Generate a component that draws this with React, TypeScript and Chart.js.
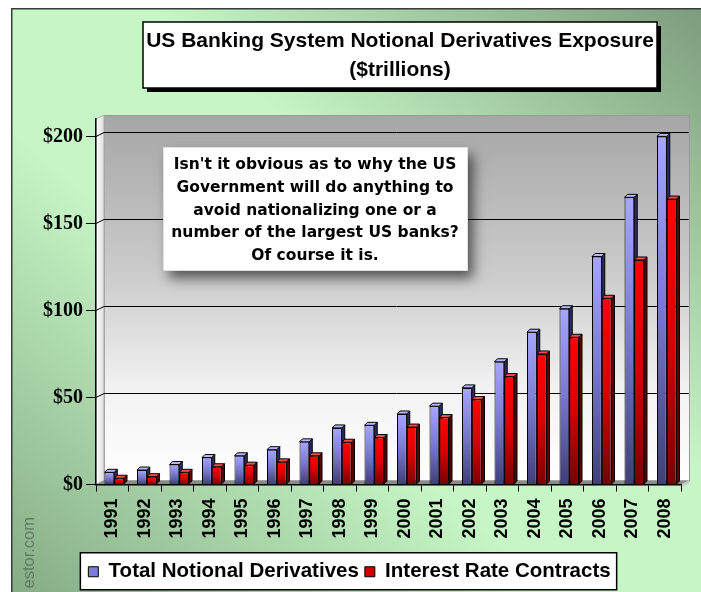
import React, { useEffect, useRef } from "react";
import { Chart, registerables } from "chart.js";

Chart.register(...registerables);

// ---------- data ----------
const years = [
  "1991", "1992", "1993", "1994", "1995", "1996", "1997", "1998", "1999",
  "2000", "2001", "2002", "2003", "2004", "2005", "2006", "2007", "2008",
];
const totalNotional = [7, 8.3, 11.5, 15.5, 16.5, 20, 24.5, 32.5, 34, 40.5, 45, 55.5, 70.5, 87.5, 101, 131, 165, 200];
const interestRate = [3.6, 4.5, 7, 10.2, 11.1, 13, 16.5, 24.3, 27, 33, 38.5, 48.8, 62, 75, 84.6, 107, 129, 164];
const seriesNames = ["Total Notional Derivatives", "Interest Rate Contracts"];
const yMin = 0;
const yMax = 210;
const yStep = 50;
const titleLines = ["US Banking System Notional Derivatives Exposure", "($trillions)"];
const noteLines = [
  "Isn't it obvious as to why the US",
  "Government will do anything to",
  "avoid nationalizing one or a",
  "number of the largest US banks?",
  "Of course it is.",
];
const watermark = "estor.com";

// ---------- styles ----------
const SANS = '"Liberation Sans", Arial, sans-serif';
const SERIF = '"Liberation Serif", "Times New Roman", serif';
const NOTE_FONT = '"DejaVu Sans", Verdana, sans-serif';
const WALL_DX = 8;
const WALL_DY = 4;
const BAR_DX = 3;
const BAR_DY = 3;
const BAR_SHIFT = 2;
const legendColors = ["#7c7cd4", "#cc0000"];
const sideColors = ["#2c2c62", "#5a0000"];
const topColors = ["#b8b8ff", "#ff4a4a"];

const frontGrad = (top: string, mid: string, bottom: string, solid: string) => (c: any) => {
  const chart = c.chart;
  const ys = chart && chart.scales && chart.scales.y;
  if (c.type !== "data" || !ys || !chart.chartArea) return solid;
  const yTop = ys.getPixelForValue(c.raw as number);
  const yb = ys.getPixelForValue(0);
  if (!isFinite(yTop) || !isFinite(yb) || Math.abs(yb - yTop) < 1) return solid;
  const g = chart.ctx.createLinearGradient(0, yTop, 0, yb);
  g.addColorStop(0, top);
  g.addColorStop(0.5, mid);
  g.addColorStop(1, bottom);
  return g;
};

const decorPlugin = {
  id: "decor",
  beforeDraw(chart: any) {
    const { ctx, width, height, chartArea: ca, scales } = chart;
    ctx.save();
    ctx.fillStyle = "#ffffff";
    ctx.fillRect(0, 0, width, height);

    // background gradient (light along TL-BR diagonal, dark at BL and TR)
    const x0 = 3, y0 = 0, w = width - x0 + 8, h = height - y0 + 8;
    const cx = x0 + w / 2, cy = y0 + h / 2;
    const k = (w * h) / (w * w + h * h);
    const g = ctx.createLinearGradient(cx - h * k, cy + w * k, cx + h * k, cy - w * k);
    g.addColorStop(0, "#84ab84");
    g.addColorStop(0.4, "#c6f6c6");
    g.addColorStop(0.6, "#c6f6c6");
    g.addColorStop(1, "#7b9b7b");
    ctx.fillStyle = g;
    ctx.fillRect(x0, y0, w, h);
    ctx.strokeStyle = "#3a3a3a";
    ctx.lineWidth = 1.5;
    ctx.strokeRect(x0 + 0.75, y0 + 0.75, w, h);

    // watermark
    ctx.save();
    ctx.translate(21, 509);
    ctx.rotate(-Math.PI / 2);
    ctx.font = "16.5px " + SANS;
    ctx.fillStyle = "rgba(80,95,80,0.7)";
    ctx.textAlign = "right";
    ctx.textBaseline = "middle";
    ctx.fillText(watermark, 0, 0);
    ctx.restore();

    // 3D walls
    const L = ca.left, R = ca.right, T = ca.top, B = ca.bottom;
    // back wall
    const wg = ctx.createLinearGradient(0, T - WALL_DY, 0, B - WALL_DY);
    wg.addColorStop(0, "#a6a6a6");
    wg.addColorStop(0.45, "#cdcdcd");
    wg.addColorStop(0.75, "#f2f2f2");
    wg.addColorStop(1, "#ffffff");
    ctx.fillStyle = wg;
    ctx.fillRect(L + WALL_DX, T - WALL_DY, R - L, B - T);
    ctx.strokeStyle = "#9a9a9a";
    ctx.lineWidth = 1;
    ctx.strokeRect(L + WALL_DX + 0.5, T - WALL_DY + 0.5, R - L, B - T);
    // left wall
    const lg = ctx.createLinearGradient(L, 0, L + WALL_DX, 0);
    lg.addColorStop(0, "#ffffff");
    lg.addColorStop(1, "#dcdcdc");
    ctx.fillStyle = lg;
    ctx.beginPath();
    ctx.moveTo(L, B);
    ctx.lineTo(L, T);
    ctx.lineTo(L + WALL_DX, T - WALL_DY);
    ctx.lineTo(L + WALL_DX, B - WALL_DY);
    ctx.closePath();
    ctx.fill();
    ctx.strokeStyle = "#b0b0b0";
    ctx.stroke();
    // floor
    ctx.fillStyle = "#8a8a8a";
    ctx.beginPath();
    ctx.moveTo(L, B);
    ctx.lineTo(L + WALL_DX, B - WALL_DY);
    ctx.lineTo(R + WALL_DX, B - WALL_DY);
    ctx.lineTo(R, B);
    ctx.closePath();
    ctx.fill();
    ctx.fillStyle = "#c8c8c8";
    ctx.beginPath();
    ctx.moveTo(R, B);
    ctx.lineTo(R + WALL_DX, B - WALL_DY);
    ctx.lineTo(R + WALL_DX, B - WALL_DY + 3);
    ctx.lineTo(R + 1, B + 2);
    ctx.closePath();
    ctx.fill();

    // gridlines on the back wall
    const ys = scales.y;
    ctx.strokeStyle = "#000";
    ctx.lineWidth = 1;
    for (let v = yMin + yStep; v <= 200; v += yStep) {
      const py = Math.round(ys.getPixelForValue(v)) + 0.5;
      ctx.beginPath();
      ctx.moveTo(L, py);
      ctx.lineTo(L + WALL_DX, py - WALL_DY);
      ctx.lineTo(R + WALL_DX, py - WALL_DY);
      ctx.stroke();
    }

    // legend frame
    const lgd = chart.legend;
    const hb = lgd && lgd.legendHitBoxes;
    if (hb && hb.length) {
      const first = hb[0], last = hb[hb.length - 1];
      const left = first.left - 8;
      const right = last.left + last.width + 6;
      const mid = first.top + first.height / 2;
      ctx.fillStyle = "#ffffff";
      ctx.fillRect(left, mid - 19, right - left, 37);
      ctx.strokeStyle = "#000";
      ctx.lineWidth = 1.5;
      ctx.strokeRect(left, mid - 19, right - left, 37);
    }
    ctx.restore();
  },
  beforeDatasetsDraw(chart: any) {
    const ctx = chart.ctx;
    ctx.save();
    ctx.translate(BAR_SHIFT, 0);
    chart.data.datasets.forEach((_ds: any, di: number) => {
      const meta = chart.getDatasetMeta(di);
      meta.data.forEach((bar: any) => {
        const { x, y, base, width } = bar.getProps(["x", "y", "base", "width"], true);
        const l = x - width / 2, r = x + width / 2;
        ctx.lineWidth = 1;
        ctx.strokeStyle = "#000";
        ctx.fillStyle = sideColors[di];
        ctx.beginPath();
        ctx.moveTo(r, y);
        ctx.lineTo(r + BAR_DX, y - BAR_DY);
        ctx.lineTo(r + BAR_DX, base - BAR_DY);
        ctx.lineTo(r, base);
        ctx.closePath();
        ctx.fill();
        ctx.stroke();
        ctx.fillStyle = topColors[di];
        ctx.beginPath();
        ctx.moveTo(l, y);
        ctx.lineTo(l + BAR_DX, y - BAR_DY);
        ctx.lineTo(r + BAR_DX, y - BAR_DY);
        ctx.lineTo(r, y);
        ctx.closePath();
        ctx.fill();
        ctx.stroke();
      });
    });
  },
  afterDatasetsDraw(chart: any) {
    chart.ctx.restore();
  },
  afterDraw(chart: any) {
    const ctx = chart.ctx;
    ctx.save();
    // title box
    const tx = 135, ty = 14, tw = 514, th = 66;
    ctx.fillStyle = "#000";
    ctx.fillRect(tx + 4, ty + 4, tw, th);
    ctx.fillStyle = "#fff";
    ctx.fillRect(tx, ty, tw, th);
    ctx.strokeStyle = "#000";
    ctx.lineWidth = 1.5;
    ctx.strokeRect(tx, ty, tw, th);
    ctx.fillStyle = "#000";
    ctx.textAlign = "center";
    ctx.textBaseline = "middle";
    ctx.font = "bold 21px " + SANS;
    ctx.fillText(titleLines[0], tx + tw / 2, 33.5);
    ctx.fillText(titleLines[1], tx + tw / 2, 62);

    // note box
    const nx = 155, ny = 139, nw = 304, nh = 123;
    ctx.save();
    ctx.shadowColor = "rgba(0,0,0,0.6)";
    ctx.shadowBlur = 12;
    ctx.shadowOffsetX = 6;
    ctx.shadowOffsetY = 8;
    ctx.fillStyle = "#fff";
    ctx.fillRect(nx, ny, nw, nh);
    ctx.restore();
    ctx.strokeStyle = "#e0e0e0";
    ctx.lineWidth = 1;
    ctx.strokeRect(nx + 0.5, ny + 0.5, nw, nh);
    ctx.fillStyle = "#000";
    ctx.font = "bold 15.5px " + NOTE_FONT;
    noteLines.forEach((line, i) => {
      ctx.fillText(line, nx + nw / 2, 157 + i * 22.75);
    });
    ctx.restore();
  },
};

export default function App() {
  const ref = useRef<HTMLCanvasElement | null>(null);

  useEffect(() => {
    if (!ref.current) return;
    const chart = new Chart(ref.current, {
      type: "bar",
      data: {
        labels: years,
        datasets: [
          {
            label: seriesNames[0],
            data: totalNotional,
            backgroundColor: frontGrad("#a6a6ff", "#7878cc", "#3e3e78", legendColors[0]),
            borderColor: "#000",
            borderWidth: 1,
            categoryPercentage: 0.6,
            barPercentage: 1,
          },
          {
            label: seriesNames[1],
            data: interestRate,
            backgroundColor: frontGrad("#ff0000", "#d80000", "#780000", legendColors[1]),
            borderColor: "#000",
            borderWidth: 1,
            categoryPercentage: 0.6,
            barPercentage: 1,
          },
        ],
      },
      options: {
        responsive: false,
        animation: false,
        layout: { padding: { left: 10, right: 20, top: 111, bottom: 0 } },
        plugins: {
          title: { display: false },
          tooltip: { enabled: false },
          legend: {
            display: true,
            position: "bottom",
            labels: {
              boxWidth: 10,
              boxHeight: 10,
              padding: 6,
              color: "#000",
              font: { family: SANS, weight: "bold", size: 20.5 },
              generateLabels: (c: any) =>
                c.data.datasets.map((ds: any, i: number) => ({
                  text: ds.label,
                  fillStyle: legendColors[i],
                  strokeStyle: "#000",
                  lineWidth: 1,
                  hidden: false,
                  datasetIndex: i,
                  fontColor: "#000",
                })),
            },
          },
        },
        scales: {
          x: {
            offset: true,
            grid: { offset: true, drawOnChartArea: false, tickLength: 7, color: "#000", tickColor: "#000" },
            border: { color: "#000", width: 1.5 },
            ticks: {
              minRotation: 90,
              maxRotation: 90,
              autoSkip: false,
              padding: 7,
              color: "#000",
              font: { family: SANS, weight: "bold", size: 18 },
            },
            afterFit: (s: any) => {
              s.height = 71;
            },
          },
          y: {
            min: yMin,
            max: yMax,
            grid: { drawOnChartArea: false, tickLength: 10, color: "#000", tickColor: "#000" },
            border: { color: "#000", width: 1.5 },
            ticks: {
              stepSize: yStep,
              includeBounds: false,
              padding: 3,
              color: "#000",
              font: { family: SERIF, weight: "bold", size: 20 },
              callback: (v: any) => "$" + v,
            },
            afterFit: (s: any) => {
              s.width = 78;
            },
          },
        },
      },
      plugins: [decorPlugin],
    } as any);
    return () => chart.destroy();
  }, []);

  return (
    <div style={{ position: "absolute", left: 8, top: 8, width: 693, height: 584, overflow: "hidden" }}>
      <canvas ref={ref} width={693} height={584} style={{ display: "block" }} />
    </div>
  );
}
